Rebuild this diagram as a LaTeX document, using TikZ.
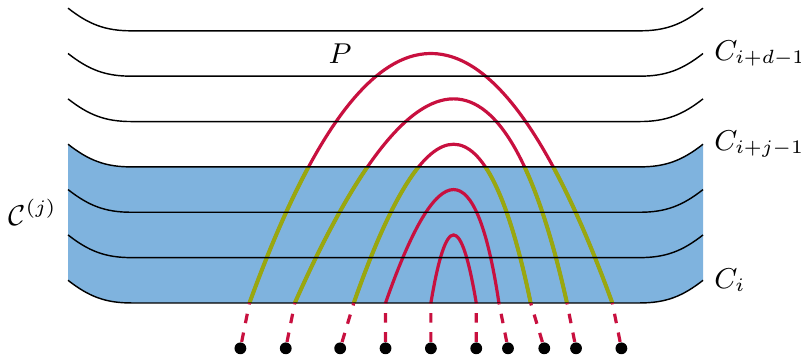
\documentclass[tikz,border=0pt]{standalone}
\usepackage{amsmath,amssymb}
\usepackage{tikz}
\definecolor{Azul}{HTML}{7FB3DE}
\definecolor{Rojo}{HTML}{C8103F}
\definecolor{Oliva}{HTML}{99A80F}

\begin{document}
\begin{tikzpicture}[
  every node/.style={font=\small},
  layer/.style={line width=0.45pt,draw=black},
  walk/.style={line width=1pt,draw=Rojo},
  inside/.style={line width=1.25pt,draw=Oliva},
  leg/.style={line width=1pt,draw=Rojo,dashed},
  vertex/.style={circle,fill=black,inner sep=0pt,minimum size=3.7pt}
]
  \useasboundingbox (-0.75,-0.62) rectangle (8.08,3.34);

  % Franja de capas C_i ... C_{i+j-1}.
  \fill[Azul] (0,0.25) to[out=-38,in=180] (0.7,0) -- (6.3,0) to[out=0,in=218] (7,0.25)
    -- (7,1.75) to[out=218,in=0] (6.3,1.5) -- (0.7,1.5) to[out=180,in=-38] (0,1.75) -- cycle;

  \coordinate (f1) at (2.00,0);
  \coordinate (f2) at (2.50,0);
  \coordinate (f3) at (3.15,0);
  \coordinate (f4) at (3.50,0);
  \coordinate (f5) at (4.00,0);
  \coordinate (f6) at (4.50,0);
  \coordinate (f7) at (4.75,0);
  \coordinate (f8) at (5.10,0);
  \coordinate (f9) at (5.50,0);
  \coordinate (f10) at (6.00,0);

  \draw[walk] (f1) .. controls (3.333,3.667) and (4.667,3.667) .. (f10);
  \draw[walk] (f2) .. controls (3.833,3.000) and (4.833,3.000) .. (f9);
  \draw[walk] (f3) .. controls (3.967,2.333) and (4.617,2.333) .. (f8);
  \draw[walk] (f4) .. controls (4.083,1.667) and (4.500,1.667) .. (f7);
  \draw[walk] (f5) .. controls (4.167,1.000) and (4.333,1.000) .. (f6);

  % Tramos dentro de la franja.
  \begin{scope}
    \clip (0,0) rectangle (7,1.5);
    \draw[inside] (f1) .. controls (3.333,3.667) and (4.667,3.667) .. (f10);
    \draw[inside] (f2) .. controls (3.833,3.000) and (4.833,3.000) .. (f9);
    \draw[inside] (f3) .. controls (3.967,2.333) and (4.617,2.333) .. (f8);
  \end{scope}

  \draw[layer] (0,3.25) to[out=-38,in=180] (0.7,3.0) -- (6.3,3.0) to[out=0,in=218] (7,3.25);
  \draw[layer] (0,2.75) to[out=-38,in=180] (0.7,2.5) -- (6.3,2.5) to[out=0,in=218] (7,2.75);
  \draw[layer] (0,2.25) to[out=-38,in=180] (0.7,2.0) -- (6.3,2.0) to[out=0,in=218] (7,2.25);
  \draw[layer] (0,1.75) to[out=-38,in=180] (0.7,1.5) -- (6.3,1.5) to[out=0,in=218] (7,1.75);
  \draw[layer] (0,1.25) to[out=-38,in=180] (0.7,1.0) -- (6.3,1.0) to[out=0,in=218] (7,1.25);
  \draw[layer] (0,0.75) to[out=-38,in=180] (0.7,0.5) -- (6.3,0.5) to[out=0,in=218] (7,0.75);
  \draw[layer] (0,0.25) to[out=-38,in=180] (0.7,0.0) -- (6.3,0.0) to[out=0,in=218] (7,0.25);

  \node (p) at (3,2.75) {$P$};
  \node[right] (cd) at (7,2.75) {$C_{i+d-1}$};
  \node[right] (cj) at (7,1.75) {$C_{i+j-1}$};
  \node[right] (ci) at (7,0.25) {$C_i$};
  \node[left] (cc) at (0,1.0) {$\mathcal{C}^{(j)}$};

  % Extremos de los caminos.
  \node[vertex] (d1) at (1.90,-0.5) {};
  \node[vertex] (d2) at (2.40,-0.5) {};
  \node[vertex] (d3) at (3.00,-0.5) {};
  \node[vertex] (d4) at (3.50,-0.5) {};
  \node[vertex] (d5) at (4.00,-0.5) {};
  \node[vertex] (d6) at (4.50,-0.5) {};
  \node[vertex] (d7) at (4.85,-0.5) {};
  \node[vertex] (d8) at (5.25,-0.5) {};
  \node[vertex] (d9) at (5.60,-0.5) {};
  \node[vertex] (d10) at (6.10,-0.5) {};
  \draw[leg] (d1) -- (f1) (d2) -- (f2) (d3) -- (f3) (d4) -- (f4) (d5) -- (f5)
    (d6) -- (f6) (d7) -- (f7) (d8) -- (f8) (d9) -- (f9) (d10) -- (f10);
\end{tikzpicture}
\end{document}
